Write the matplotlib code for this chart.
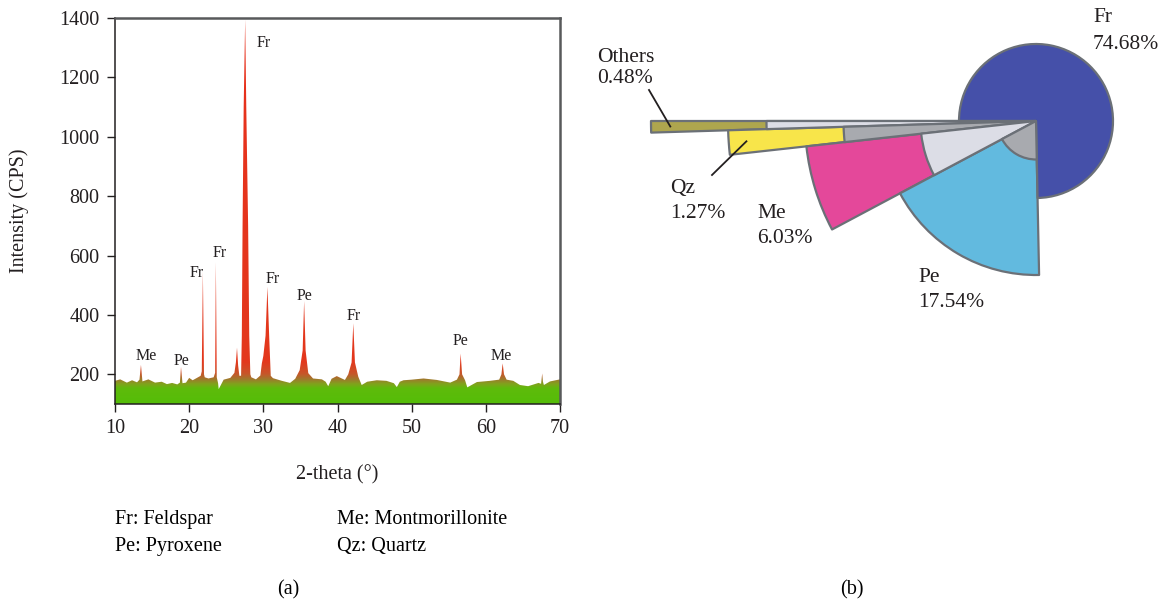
import numpy as np
import matplotlib.pyplot as plt
from matplotlib.colors import LinearSegmentedColormap
from matplotlib.patches import Wedge

plt.rcParams['font.family'] = ['Liberation Serif', 'DejaVu Serif']

W, H = 1164, 603

# (a) XRD pattern
two_theta = [10.0, 10.7, 11.6, 12.3, 12.97, 13.3, 13.5, 13.7, 14.5, 15.4, 16.3, 17.0,
             17.7, 18.4, 18.75, 18.9, 19.1, 19.57, 20.0, 20.47, 21.05, 21.55, 21.7,
             21.85, 22.0, 22.1, 22.6, 23.3, 23.5, 23.6, 23.72, 23.9, 23.98, 24.65,
             25.55, 26.1, 26.3, 26.45, 26.6, 26.77, 27.0, 27.1, 27.2, 27.35, 27.55,
             27.7, 27.95, 28.1, 28.25, 28.38, 29.0, 29.6, 29.8, 30.0, 30.3, 30.55,
             30.8, 31.0, 31.3, 32.5, 33.6, 34.3, 34.9, 35.3, 35.5, 35.7, 36.06, 36.7,
             37.9, 38.4, 38.75, 39.2, 39.9, 41.0, 41.45, 41.9, 42.13, 42.35, 42.8,
             43.26, 44.0, 45.3, 46.6, 47.6, 48.0, 48.4, 48.9, 50.0, 51.6, 53.4, 55.2,
             56.1, 56.45, 56.6, 56.8, 57.2, 57.5, 58.8, 60.55, 61.8, 62.1, 62.27,
             62.45, 62.8, 63.7, 64.6, 65.7, 67.1, 67.45, 67.6, 67.7, 67.83, 68.65, 70.0]
intensity = [178, 183, 172, 180, 173, 182, 232, 176, 183, 172, 175, 167,
             171, 166, 172, 225, 170, 172, 188, 180, 188, 195, 210,
             545, 200, 190, 186, 190, 205, 578, 190, 170, 150, 182,
             188, 205, 240, 290, 230, 195, 195, 330, 700, 1100, 1395,
             1100, 700, 330, 200, 190, 183, 196, 237, 262, 330, 495,
             320, 195, 187, 178, 171, 185, 214, 280, 447, 280, 204, 186,
             183, 175, 160, 185, 194, 181, 200, 240, 372, 240, 192,
             164, 175, 180, 178, 170, 157, 175, 180, 182, 186, 181, 172,
             182, 200, 270, 200, 180, 156, 174, 178, 182, 200, 237,
             200, 182, 178, 164, 160, 171, 168, 203, 175, 164, 176, 183]

x_ticks = [10, 20, 30, 40, 50, 60, 70]
y_ticks = [200, 400, 600, 800, 1000, 1200, 1400]

peak_names = ['Me', 'Pe', 'Fr', 'Fr', 'Fr', 'Fr', 'Pe', 'Fr', 'Pe', 'Me']
peak_label_x = [14.24, 18.97, 20.99, 24.12, 30.02, 31.3, 35.55, 42.15, 56.58, 62.04]
peak_label_y = [248, 231, 527, 594, 1303, 507, 450, 382, 298, 248]

phase_legend = ['Fr: Feldspar', 'Pe: Pyroxene', 'Me: Montmorillonite', 'Qz: Quartz']

# (b) mineral composition
minerals = ['Others', 'Qz', 'Me', 'Pe', 'Fr']
percent = [0.48, 1.27, 6.03, 17.54, 74.68]
colors = ['#aea64e', '#f8e54a', '#e4489a', '#62badf', '#4550a9']
gray_fill = ['#dcdde6', '#a8aaaf', '#dcdde6', '#a8aaaf', None]

fig = plt.figure(figsize=(W / 100, H / 100), dpi=100)


def fx(px):
    return px / W


def fy(py):
    return 1 - py / H


# ---------- (a) ----------
ax = fig.add_axes([fx(115), fy(404), fx(560) - fx(115), fy(18) - fy(404)])
ax.set_xlim(10, 70)
ax.set_ylim(100, 1400)

poly = ax.fill_between(two_theta, 100, intensity, facecolor='none', edgecolor='none')
stops = [(100, '#55bd08'), (150, '#5ebb0b'), (165, '#80a31c'), (180, '#9d7b2c'),
         (200, '#c8552a'), (240, '#e3381d'), (1400, '#e8301c')]
cmap = LinearSegmentedColormap.from_list(
    'xrd', [((v - 100) / 1300, c) for v, c in stops])
grad = np.linspace(0, 1, 2600).reshape(-1, 1)
im = ax.imshow(grad, cmap=cmap, aspect='auto', origin='lower',
               extent=(10, 70, 100, 1400), interpolation='bilinear')
im.set_clip_path(poly.get_paths()[0], transform=ax.transData)

for name, px_, py_ in zip(peak_names, peak_label_x, peak_label_y):
    ax.text(px_, py_, name, ha='center', va='baseline', fontsize=11.5, color='#231f20')

ax.set_xticks(x_ticks)
ax.set_yticks(y_ticks)
ax.tick_params(direction='out', length=6, width=1, pad=5, labelsize=14.5,
               colors='#231f20')
for side in ['left', 'bottom']:
    ax.spines[side].set_color('#231f20')
    ax.spines[side].set_linewidth(1.1)
for side in ['top', 'right']:
    ax.spines[side].set_color('#58595b')
    ax.spines[side].set_linewidth(1.8)

fig.text(fx(19), fy(211), 'Intensity (CPS)', rotation=90, ha='center', va='center',
         fontsize=14.5, color='#231f20')
fig.text(fx(337), fy(479), '2-theta (°)', ha='center', va='baseline',
         fontsize=14.5, color='#231f20')
fig.text(fx(115), fy(524), phase_legend[0], ha='left', va='baseline', fontsize=14.5)
fig.text(fx(115), fy(551), phase_legend[1], ha='left', va='baseline', fontsize=14.5)
fig.text(fx(337), fy(524), phase_legend[2], ha='left', va='baseline', fontsize=14.5)
fig.text(fx(337), fy(551), phase_legend[3], ha='left', va='baseline', fontsize=14.5)
fig.text(fx(288), fy(594), '(a)', ha='center', va='baseline', fontsize=14.5)

# ---------- (b) ----------
cx, cy, unit = 1036, 121, 77
ax2 = fig.add_axes([fx(590), 0, 1 - fx(590), 1])
ax2.set_xlim((590 - cx) / unit, (W - cx) / unit)
ax2.set_ylim((cy - H) / unit, cy / unit)
ax2.axis('off')


def u(px, py):
    return (px - cx) / unit, (cy - py) / unit


edge = '#6b7077'
start = 180.0
mid_angles = []
for i, (name, p, col, g) in enumerate(zip(minerals, percent, colors, gray_fill)):
    span = p / 100 * 360
    r = len(minerals) - i
    w = Wedge((0, 0), r, start, start + span, facecolor=col, edgecolor=edge,
              linewidth=1.6, joinstyle='round', zorder=2)
    ax2.add_patch(w)
    if g is not None:
        ax2.add_patch(Wedge((0, 0), r - 1.5, start, start + span, facecolor=g,
                            edgecolor=edge, linewidth=1.6, joinstyle='round', zorder=3))
    mid_angles.append(np.deg2rad(start + span / 2))
    start += span

labels_px = {'Fr': (1093, 22, 49), 'Others': (597, 62, 83), 'Qz': (670, 193, 218),
             'Me': (757, 218, 243), 'Pe': (918, 282, 307)}
for name, p in zip(minerals, percent):
    lx, b1, b2 = labels_px[name]
    x1, y1 = u(lx, b1)
    x2, y2 = u(lx, b2)
    ax2.text(x1, y1, name, ha='left', va='baseline', fontsize=15.5, color='#231f20')
    ax2.text(x2, y2, f'{p:.2f}%', ha='left', va='baseline', fontsize=15.5,
             color='#231f20')

# leader lines for the two thin slices
for i, (sx, sy), rr in [(0, (649, 90), 4.75), (1, (712, 175), 3.77)]:
    x0, y0 = u(sx, sy)
    a = mid_angles[i]
    ax2.plot([x0, rr * np.cos(a)], [y0, rr * np.sin(a)], color='#231f20',
             linewidth=1.3, zorder=5)

fig.text(fx(852), fy(594), '(b)', ha='center', va='baseline', fontsize=14.5)

fig.savefig('out.png', dpi=100)
